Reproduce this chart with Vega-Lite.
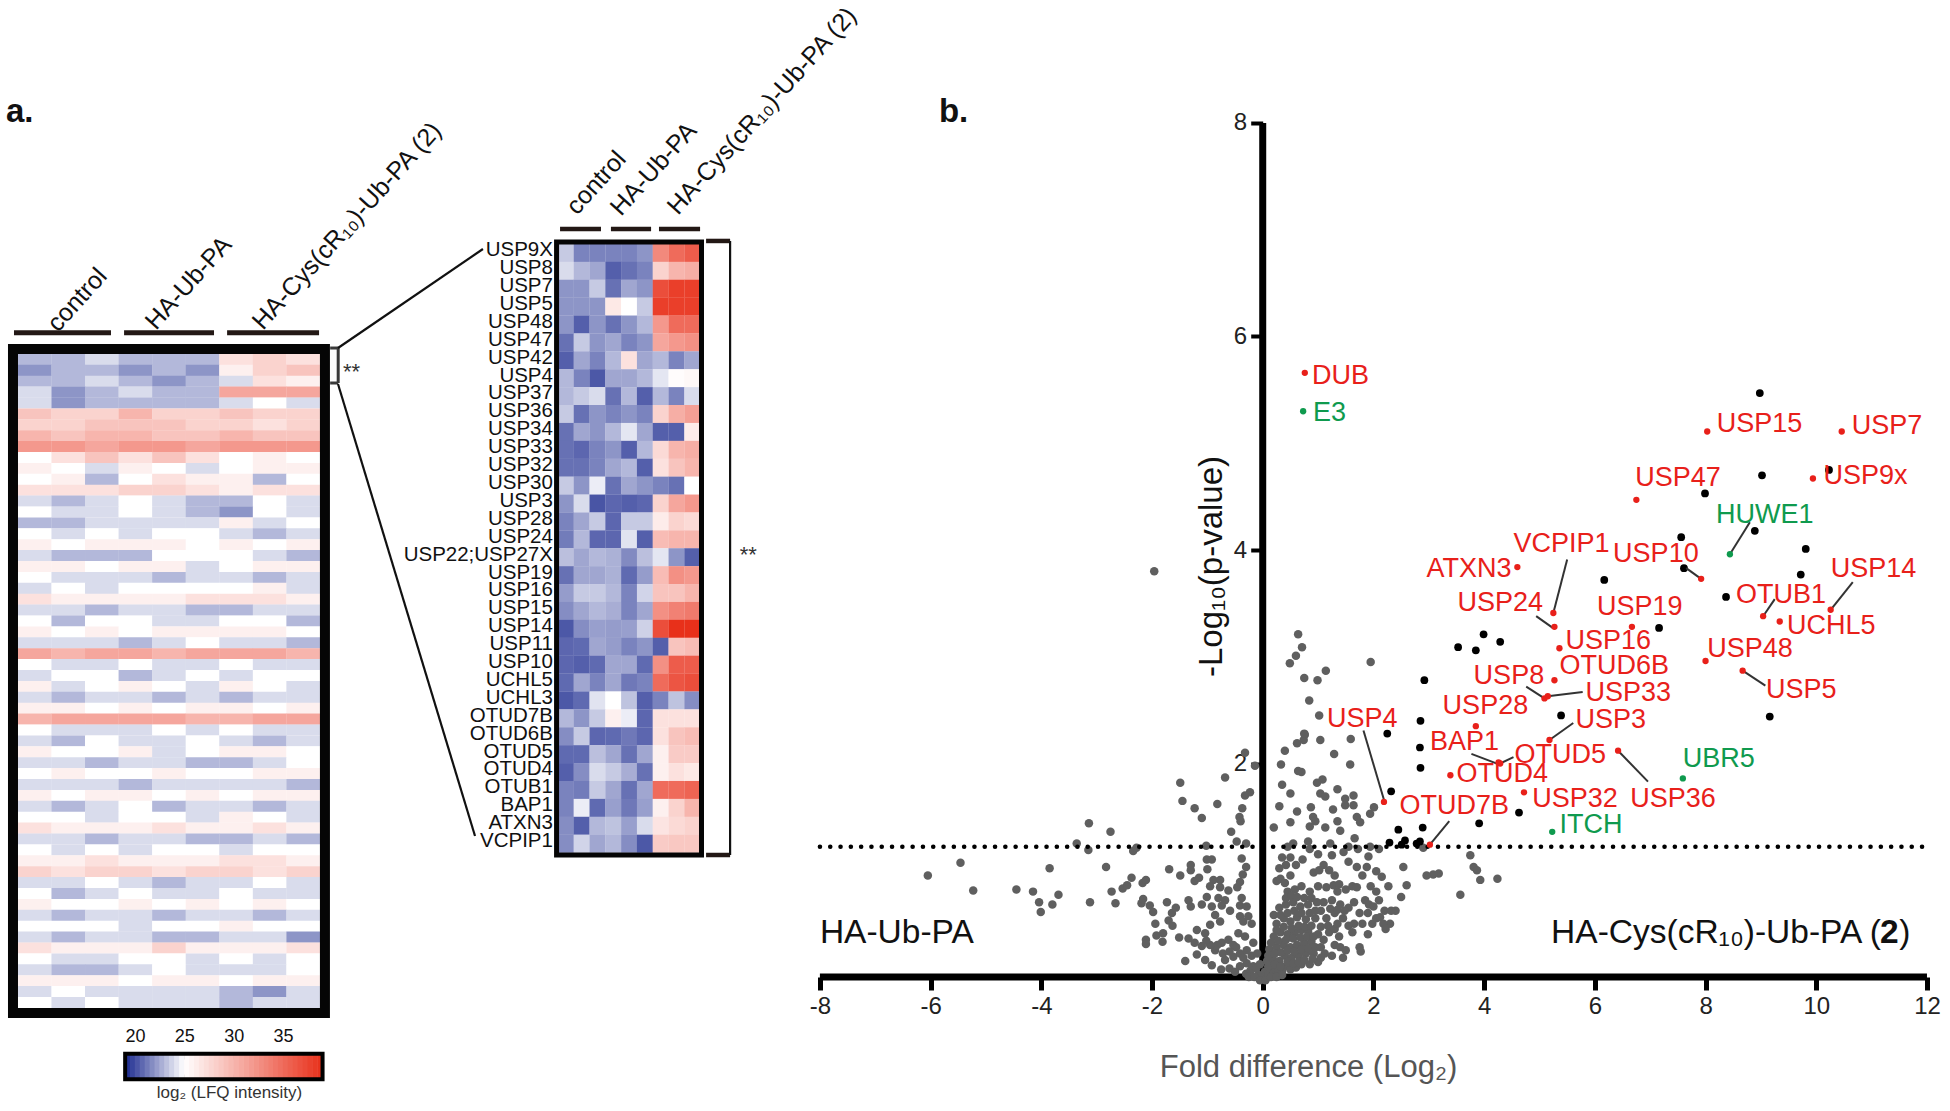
{"$schema":"https://vega.github.io/schema/vega-lite/v6.json","padding":0,"spacing":0,"bounds":"flush","config":{"view":{"stroke":null},"font":"Liberation Sans","concat":{"spacing":0}},
"datasets":{
"heatA":[
{"r":0,"c":0,"v":23},{"r":0,"c":1,"v":23},{"r":0,"c":2,"v":24},{"r":0,"c":3,"v":23},{"r":0,"c":4,"v":23},{"r":0,"c":5,"v":23},{"r":0,"c":6,"v":27},{"r":0,"c":7,"v":28},{"r":0,"c":8,"v":27},
{"r":1,"c":0,"v":22},{"r":1,"c":1,"v":23},{"r":1,"c":2,"v":23},{"r":1,"c":3,"v":22},{"r":1,"c":4,"v":23},{"r":1,"c":5,"v":22},{"r":1,"c":6,"v":26},{"r":1,"c":7,"v":28},{"r":1,"c":8,"v":29},
{"r":2,"c":0,"v":23},{"r":2,"c":1,"v":23},{"r":2,"c":2,"v":24},{"r":2,"c":3,"v":23},{"r":2,"c":4,"v":22},{"r":2,"c":5,"v":23},{"r":2,"c":6,"v":24},{"r":2,"c":7,"v":27},{"r":2,"c":8,"v":26},
{"r":3,"c":0,"v":24},{"r":3,"c":1,"v":22},{"r":3,"c":2,"v":23},{"r":3,"c":3,"v":24},{"r":3,"c":4,"v":23},{"r":3,"c":5,"v":23},{"r":3,"c":6,"v":31},{"r":3,"c":7,"v":31},{"r":3,"c":8,"v":31},
{"r":4,"c":0,"v":24},{"r":4,"c":1,"v":22},{"r":4,"c":2,"v":23},{"r":4,"c":3,"v":23},{"r":4,"c":4,"v":23},{"r":4,"c":5,"v":23},{"r":4,"c":6,"v":24},{"r":4,"c":7,"v":25},{"r":4,"c":8,"v":24},
{"r":5,"c":0,"v":29},{"r":5,"c":1,"v":28},{"r":5,"c":2,"v":28},{"r":5,"c":3,"v":30},{"r":5,"c":4,"v":28},{"r":5,"c":5,"v":28},{"r":5,"c":6,"v":29},{"r":5,"c":7,"v":28},{"r":5,"c":8,"v":28},
{"r":6,"c":0,"v":28},{"r":6,"c":1,"v":28},{"r":6,"c":2,"v":29},{"r":6,"c":3,"v":29},{"r":6,"c":4,"v":29},{"r":6,"c":5,"v":28},{"r":6,"c":6,"v":28},{"r":6,"c":7,"v":27},{"r":6,"c":8,"v":28},
{"r":7,"c":0,"v":30},{"r":7,"c":1,"v":29},{"r":7,"c":2,"v":30},{"r":7,"c":3,"v":30},{"r":7,"c":4,"v":29},{"r":7,"c":5,"v":29},{"r":7,"c":6,"v":30},{"r":7,"c":7,"v":29},{"r":7,"c":8,"v":29},
{"r":8,"c":0,"v":32},{"r":8,"c":1,"v":32},{"r":8,"c":2,"v":31},{"r":8,"c":3,"v":32},{"r":8,"c":4,"v":32},{"r":8,"c":5,"v":31},{"r":8,"c":6,"v":32},{"r":8,"c":7,"v":32},{"r":8,"c":8,"v":32},
{"r":9,"c":0,"v":25},{"r":9,"c":1,"v":27},{"r":9,"c":2,"v":29},{"r":9,"c":3,"v":27},{"r":9,"c":4,"v":29},{"r":9,"c":5,"v":27},{"r":9,"c":6,"v":25},{"r":9,"c":7,"v":26},{"r":9,"c":8,"v":25},
{"r":10,"c":0,"v":26},{"r":10,"c":1,"v":25},{"r":10,"c":2,"v":24},{"r":10,"c":3,"v":26},{"r":10,"c":4,"v":25},{"r":10,"c":5,"v":24},{"r":10,"c":6,"v":25},{"r":10,"c":7,"v":26},{"r":10,"c":8,"v":26},
{"r":11,"c":0,"v":25},{"r":11,"c":1,"v":26},{"r":11,"c":2,"v":23},{"r":11,"c":3,"v":25},{"r":11,"c":4,"v":27},{"r":11,"c":5,"v":26},{"r":11,"c":6,"v":26},{"r":11,"c":7,"v":23},{"r":11,"c":8,"v":25},
{"r":12,"c":0,"v":27},{"r":12,"c":1,"v":27},{"r":12,"c":2,"v":27},{"r":12,"c":3,"v":28},{"r":12,"c":4,"v":28},{"r":12,"c":5,"v":27},{"r":12,"c":6,"v":26},{"r":12,"c":7,"v":27},{"r":12,"c":8,"v":27},
{"r":13,"c":0,"v":24},{"r":13,"c":1,"v":23},{"r":13,"c":2,"v":24},{"r":13,"c":3,"v":25},{"r":13,"c":4,"v":24},{"r":13,"c":5,"v":23},{"r":13,"c":6,"v":23},{"r":13,"c":7,"v":25},{"r":13,"c":8,"v":24},
{"r":14,"c":0,"v":25},{"r":14,"c":1,"v":24},{"r":14,"c":2,"v":24},{"r":14,"c":3,"v":25},{"r":14,"c":4,"v":24},{"r":14,"c":5,"v":23},{"r":14,"c":6,"v":22},{"r":14,"c":7,"v":25},{"r":14,"c":8,"v":24},
{"r":15,"c":0,"v":23},{"r":15,"c":1,"v":23},{"r":15,"c":2,"v":24},{"r":15,"c":3,"v":24},{"r":15,"c":4,"v":24},{"r":15,"c":5,"v":24},{"r":15,"c":6,"v":26},{"r":15,"c":7,"v":24},{"r":15,"c":8,"v":25},
{"r":16,"c":0,"v":25},{"r":16,"c":1,"v":24},{"r":16,"c":2,"v":25},{"r":16,"c":3,"v":24},{"r":16,"c":4,"v":25},{"r":16,"c":5,"v":25},{"r":16,"c":6,"v":24},{"r":16,"c":7,"v":23},{"r":16,"c":8,"v":24},
{"r":17,"c":0,"v":26},{"r":17,"c":1,"v":25},{"r":17,"c":2,"v":26},{"r":17,"c":3,"v":26},{"r":17,"c":4,"v":26},{"r":17,"c":5,"v":25},{"r":17,"c":6,"v":26},{"r":17,"c":7,"v":25},{"r":17,"c":8,"v":26},
{"r":18,"c":0,"v":24},{"r":18,"c":1,"v":23},{"r":18,"c":2,"v":23},{"r":18,"c":3,"v":23},{"r":18,"c":4,"v":25},{"r":18,"c":5,"v":25},{"r":18,"c":6,"v":25},{"r":18,"c":7,"v":24},{"r":18,"c":8,"v":23},
{"r":19,"c":0,"v":26},{"r":19,"c":1,"v":26},{"r":19,"c":2,"v":25},{"r":19,"c":3,"v":26},{"r":19,"c":4,"v":26},{"r":19,"c":5,"v":24},{"r":19,"c":6,"v":25},{"r":19,"c":7,"v":26},{"r":19,"c":8,"v":26},
{"r":20,"c":0,"v":25},{"r":20,"c":1,"v":24},{"r":20,"c":2,"v":24},{"r":20,"c":3,"v":24},{"r":20,"c":4,"v":23},{"r":20,"c":5,"v":24},{"r":20,"c":6,"v":24},{"r":20,"c":7,"v":23},{"r":20,"c":8,"v":24},
{"r":21,"c":0,"v":24},{"r":21,"c":1,"v":25},{"r":21,"c":2,"v":24},{"r":21,"c":3,"v":25},{"r":21,"c":4,"v":25},{"r":21,"c":5,"v":25},{"r":21,"c":6,"v":25},{"r":21,"c":7,"v":26},{"r":21,"c":8,"v":24},
{"r":22,"c":0,"v":27},{"r":22,"c":1,"v":26},{"r":22,"c":2,"v":26},{"r":22,"c":3,"v":26},{"r":22,"c":4,"v":26},{"r":22,"c":5,"v":27},{"r":22,"c":6,"v":27},{"r":22,"c":7,"v":27},{"r":22,"c":8,"v":26},
{"r":23,"c":0,"v":24},{"r":23,"c":1,"v":24},{"r":23,"c":2,"v":23},{"r":23,"c":3,"v":24},{"r":23,"c":4,"v":24},{"r":23,"c":5,"v":23},{"r":23,"c":6,"v":23},{"r":23,"c":7,"v":24},{"r":23,"c":8,"v":24},
{"r":24,"c":0,"v":25},{"r":24,"c":1,"v":23},{"r":24,"c":2,"v":25},{"r":24,"c":3,"v":25},{"r":24,"c":4,"v":24},{"r":24,"c":5,"v":24},{"r":24,"c":6,"v":25},{"r":24,"c":7,"v":25},{"r":24,"c":8,"v":23},
{"r":25,"c":0,"v":26},{"r":25,"c":1,"v":25},{"r":25,"c":2,"v":26},{"r":25,"c":3,"v":25},{"r":25,"c":4,"v":26},{"r":25,"c":5,"v":26},{"r":25,"c":6,"v":26},{"r":25,"c":7,"v":26},{"r":25,"c":8,"v":25},
{"r":26,"c":0,"v":24},{"r":26,"c":1,"v":24},{"r":26,"c":2,"v":24},{"r":26,"c":3,"v":23},{"r":26,"c":4,"v":24},{"r":26,"c":5,"v":25},{"r":26,"c":6,"v":24},{"r":26,"c":7,"v":24},{"r":26,"c":8,"v":23},
{"r":27,"c":0,"v":31},{"r":27,"c":1,"v":30},{"r":27,"c":2,"v":31},{"r":27,"c":3,"v":31},{"r":27,"c":4,"v":30},{"r":27,"c":5,"v":31},{"r":27,"c":6,"v":31},{"r":27,"c":7,"v":31},{"r":27,"c":8,"v":30},
{"r":28,"c":0,"v":25},{"r":28,"c":1,"v":24},{"r":28,"c":2,"v":24},{"r":28,"c":3,"v":25},{"r":28,"c":4,"v":24},{"r":28,"c":5,"v":24},{"r":28,"c":6,"v":25},{"r":28,"c":7,"v":24},{"r":28,"c":8,"v":24},
{"r":29,"c":0,"v":24},{"r":29,"c":1,"v":25},{"r":29,"c":2,"v":25},{"r":29,"c":3,"v":23},{"r":29,"c":4,"v":24},{"r":29,"c":5,"v":25},{"r":29,"c":6,"v":24},{"r":29,"c":7,"v":25},{"r":29,"c":8,"v":25},
{"r":30,"c":0,"v":26},{"r":30,"c":1,"v":24},{"r":30,"c":2,"v":25},{"r":30,"c":3,"v":26},{"r":30,"c":4,"v":25},{"r":30,"c":5,"v":24},{"r":30,"c":6,"v":26},{"r":30,"c":7,"v":25},{"r":30,"c":8,"v":24},
{"r":31,"c":0,"v":24},{"r":31,"c":1,"v":23},{"r":31,"c":2,"v":24},{"r":31,"c":3,"v":24},{"r":31,"c":4,"v":23},{"r":31,"c":5,"v":24},{"r":31,"c":6,"v":23},{"r":31,"c":7,"v":24},{"r":31,"c":8,"v":24},
{"r":32,"c":0,"v":26},{"r":32,"c":1,"v":26},{"r":32,"c":2,"v":25},{"r":32,"c":3,"v":26},{"r":32,"c":4,"v":25},{"r":32,"c":5,"v":26},{"r":32,"c":6,"v":26},{"r":32,"c":7,"v":25},{"r":32,"c":8,"v":26},
{"r":33,"c":0,"v":30},{"r":33,"c":1,"v":31},{"r":33,"c":2,"v":31},{"r":33,"c":3,"v":31},{"r":33,"c":4,"v":31},{"r":33,"c":5,"v":30},{"r":33,"c":6,"v":30},{"r":33,"c":7,"v":31},{"r":33,"c":8,"v":31},
{"r":34,"c":0,"v":25},{"r":34,"c":1,"v":24},{"r":34,"c":2,"v":24},{"r":34,"c":3,"v":24},{"r":34,"c":4,"v":25},{"r":34,"c":5,"v":24},{"r":34,"c":6,"v":25},{"r":34,"c":7,"v":24},{"r":34,"c":8,"v":24},
{"r":35,"c":0,"v":24},{"r":35,"c":1,"v":23},{"r":35,"c":2,"v":25},{"r":35,"c":3,"v":24},{"r":35,"c":4,"v":24},{"r":35,"c":5,"v":25},{"r":35,"c":6,"v":24},{"r":35,"c":7,"v":23},{"r":35,"c":8,"v":24},
{"r":36,"c":0,"v":26},{"r":36,"c":1,"v":25},{"r":36,"c":2,"v":25},{"r":36,"c":3,"v":26},{"r":36,"c":4,"v":24},{"r":36,"c":5,"v":25},{"r":36,"c":6,"v":26},{"r":36,"c":7,"v":26},{"r":36,"c":8,"v":25},
{"r":37,"c":0,"v":24},{"r":37,"c":1,"v":24},{"r":37,"c":2,"v":23},{"r":37,"c":3,"v":24},{"r":37,"c":4,"v":24},{"r":37,"c":5,"v":23},{"r":37,"c":6,"v":23},{"r":37,"c":7,"v":24},{"r":37,"c":8,"v":25},
{"r":38,"c":0,"v":25},{"r":38,"c":1,"v":26},{"r":38,"c":2,"v":25},{"r":38,"c":3,"v":25},{"r":38,"c":4,"v":26},{"r":38,"c":5,"v":25},{"r":38,"c":6,"v":25},{"r":38,"c":7,"v":26},{"r":38,"c":8,"v":26},
{"r":39,"c":0,"v":24},{"r":39,"c":1,"v":24},{"r":39,"c":2,"v":24},{"r":39,"c":3,"v":23},{"r":39,"c":4,"v":24},{"r":39,"c":5,"v":24},{"r":39,"c":6,"v":24},{"r":39,"c":7,"v":24},{"r":39,"c":8,"v":23},
{"r":40,"c":0,"v":26},{"r":40,"c":1,"v":25},{"r":40,"c":2,"v":26},{"r":40,"c":3,"v":26},{"r":40,"c":4,"v":25},{"r":40,"c":5,"v":26},{"r":40,"c":6,"v":25},{"r":40,"c":7,"v":26},{"r":40,"c":8,"v":26},
{"r":41,"c":0,"v":24},{"r":41,"c":1,"v":23},{"r":41,"c":2,"v":24},{"r":41,"c":3,"v":25},{"r":41,"c":4,"v":23},{"r":41,"c":5,"v":24},{"r":41,"c":6,"v":24},{"r":41,"c":7,"v":23},{"r":41,"c":8,"v":24},
{"r":42,"c":0,"v":25},{"r":42,"c":1,"v":25},{"r":42,"c":2,"v":24},{"r":42,"c":3,"v":25},{"r":42,"c":4,"v":25},{"r":42,"c":5,"v":24},{"r":42,"c":6,"v":26},{"r":42,"c":7,"v":25},{"r":42,"c":8,"v":24},
{"r":43,"c":0,"v":27},{"r":43,"c":1,"v":26},{"r":43,"c":2,"v":26},{"r":43,"c":3,"v":26},{"r":43,"c":4,"v":27},{"r":43,"c":5,"v":26},{"r":43,"c":6,"v":26},{"r":43,"c":7,"v":27},{"r":43,"c":8,"v":26},
{"r":44,"c":0,"v":24},{"r":44,"c":1,"v":24},{"r":44,"c":2,"v":23},{"r":44,"c":3,"v":24},{"r":44,"c":4,"v":24},{"r":44,"c":5,"v":23},{"r":44,"c":6,"v":23},{"r":44,"c":7,"v":24},{"r":44,"c":8,"v":23},
{"r":45,"c":0,"v":25},{"r":45,"c":1,"v":24},{"r":45,"c":2,"v":25},{"r":45,"c":3,"v":24},{"r":45,"c":4,"v":25},{"r":45,"c":5,"v":25},{"r":45,"c":6,"v":24},{"r":45,"c":7,"v":25},{"r":45,"c":8,"v":25},
{"r":46,"c":0,"v":26},{"r":46,"c":1,"v":26},{"r":46,"c":2,"v":27},{"r":46,"c":3,"v":26},{"r":46,"c":4,"v":26},{"r":46,"c":5,"v":26},{"r":46,"c":6,"v":27},{"r":46,"c":7,"v":27},{"r":46,"c":8,"v":26},
{"r":47,"c":0,"v":28},{"r":47,"c":1,"v":27},{"r":47,"c":2,"v":28},{"r":47,"c":3,"v":28},{"r":47,"c":4,"v":27},{"r":47,"c":5,"v":28},{"r":47,"c":6,"v":28},{"r":47,"c":7,"v":27},{"r":47,"c":8,"v":28},
{"r":48,"c":0,"v":24},{"r":48,"c":1,"v":24},{"r":48,"c":2,"v":25},{"r":48,"c":3,"v":24},{"r":48,"c":4,"v":23},{"r":48,"c":5,"v":24},{"r":48,"c":6,"v":24},{"r":48,"c":7,"v":25},{"r":48,"c":8,"v":24},
{"r":49,"c":0,"v":25},{"r":49,"c":1,"v":23},{"r":49,"c":2,"v":24},{"r":49,"c":3,"v":25},{"r":49,"c":4,"v":24},{"r":49,"c":5,"v":24},{"r":49,"c":6,"v":25},{"r":49,"c":7,"v":24},{"r":49,"c":8,"v":24},
{"r":50,"c":0,"v":26},{"r":50,"c":1,"v":25},{"r":50,"c":2,"v":25},{"r":50,"c":3,"v":26},{"r":50,"c":4,"v":25},{"r":50,"c":5,"v":26},{"r":50,"c":6,"v":25},{"r":50,"c":7,"v":26},{"r":50,"c":8,"v":25},
{"r":51,"c":0,"v":24},{"r":51,"c":1,"v":23},{"r":51,"c":2,"v":24},{"r":51,"c":3,"v":24},{"r":51,"c":4,"v":23},{"r":51,"c":5,"v":24},{"r":51,"c":6,"v":24},{"r":51,"c":7,"v":23},{"r":51,"c":8,"v":24},
{"r":52,"c":0,"v":25},{"r":52,"c":1,"v":25},{"r":52,"c":2,"v":25},{"r":52,"c":3,"v":24},{"r":52,"c":4,"v":25},{"r":52,"c":5,"v":25},{"r":52,"c":6,"v":26},{"r":52,"c":7,"v":25},{"r":52,"c":8,"v":25},
{"r":53,"c":0,"v":24},{"r":53,"c":1,"v":23},{"r":53,"c":2,"v":24},{"r":53,"c":3,"v":24},{"r":53,"c":4,"v":23},{"r":53,"c":5,"v":23},{"r":53,"c":6,"v":24},{"r":53,"c":7,"v":24},{"r":53,"c":8,"v":22},
{"r":54,"c":0,"v":27},{"r":54,"c":1,"v":26},{"r":54,"c":2,"v":26},{"r":54,"c":3,"v":26},{"r":54,"c":4,"v":28},{"r":54,"c":5,"v":26},{"r":54,"c":6,"v":26},{"r":54,"c":7,"v":26},{"r":54,"c":8,"v":27},
{"r":55,"c":0,"v":25},{"r":55,"c":1,"v":24},{"r":55,"c":2,"v":24},{"r":55,"c":3,"v":25},{"r":55,"c":4,"v":25},{"r":55,"c":5,"v":24},{"r":55,"c":6,"v":25},{"r":55,"c":7,"v":24},{"r":55,"c":8,"v":25},
{"r":56,"c":0,"v":24},{"r":56,"c":1,"v":23},{"r":56,"c":2,"v":23},{"r":56,"c":3,"v":24},{"r":56,"c":4,"v":25},{"r":56,"c":5,"v":24},{"r":56,"c":6,"v":24},{"r":56,"c":7,"v":24},{"r":56,"c":8,"v":25},
{"r":57,"c":0,"v":26},{"r":57,"c":1,"v":26},{"r":57,"c":2,"v":26},{"r":57,"c":3,"v":25},{"r":57,"c":4,"v":26},{"r":57,"c":5,"v":26},{"r":57,"c":6,"v":25},{"r":57,"c":7,"v":26},{"r":57,"c":8,"v":26},
{"r":58,"c":0,"v":24},{"r":58,"c":1,"v":25},{"r":58,"c":2,"v":24},{"r":58,"c":3,"v":24},{"r":58,"c":4,"v":24},{"r":58,"c":5,"v":24},{"r":58,"c":6,"v":23},{"r":58,"c":7,"v":22},{"r":58,"c":8,"v":24},
{"r":59,"c":0,"v":25},{"r":59,"c":1,"v":24},{"r":59,"c":2,"v":25},{"r":59,"c":3,"v":24},{"r":59,"c":4,"v":24},{"r":59,"c":5,"v":24},{"r":59,"c":6,"v":23},{"r":59,"c":7,"v":24},{"r":59,"c":8,"v":24}
],
"heatB":[
{"r":0,"c":0,"v":23.5},{"r":0,"c":1,"v":21.5},{"r":0,"c":2,"v":21.5},{"r":0,"c":3,"v":21.5},{"r":0,"c":4,"v":21.5},{"r":0,"c":5,"v":22},{"r":0,"c":6,"v":33},{"r":0,"c":7,"v":35},{"r":0,"c":8,"v":36},
{"r":1,"c":0,"v":24},{"r":1,"c":1,"v":23},{"r":1,"c":2,"v":22.5},{"r":1,"c":3,"v":20.5},{"r":1,"c":4,"v":21},{"r":1,"c":5,"v":21.5},{"r":1,"c":6,"v":28},{"r":1,"c":7,"v":30},{"r":1,"c":8,"v":30.5},
{"r":2,"c":0,"v":22},{"r":2,"c":1,"v":22},{"r":2,"c":2,"v":23.5},{"r":2,"c":3,"v":21},{"r":2,"c":4,"v":22.5},{"r":2,"c":5,"v":22},{"r":2,"c":6,"v":37},{"r":2,"c":7,"v":38},{"r":2,"c":8,"v":38},
{"r":3,"c":0,"v":22},{"r":3,"c":1,"v":22},{"r":3,"c":2,"v":22},{"r":3,"c":3,"v":26.5},{"r":3,"c":4,"v":25},{"r":3,"c":5,"v":23.5},{"r":3,"c":6,"v":38},{"r":3,"c":7,"v":38},{"r":3,"c":8,"v":38},
{"r":4,"c":0,"v":22},{"r":4,"c":1,"v":20.5},{"r":4,"c":2,"v":22},{"r":4,"c":3,"v":21},{"r":4,"c":4,"v":22},{"r":4,"c":5,"v":23},{"r":4,"c":6,"v":32},{"r":4,"c":7,"v":35},{"r":4,"c":8,"v":35},
{"r":5,"c":0,"v":21},{"r":5,"c":1,"v":23.5},{"r":5,"c":2,"v":22},{"r":5,"c":3,"v":22.5},{"r":5,"c":4,"v":21.5},{"r":5,"c":5,"v":22},{"r":5,"c":6,"v":31},{"r":5,"c":7,"v":32},{"r":5,"c":8,"v":32.5},
{"r":6,"c":0,"v":20.5},{"r":6,"c":1,"v":22.5},{"r":6,"c":2,"v":21.5},{"r":6,"c":3,"v":23},{"r":6,"c":4,"v":27},{"r":6,"c":5,"v":22.5},{"r":6,"c":6,"v":23},{"r":6,"c":7,"v":21.5},{"r":6,"c":8,"v":22.5},
{"r":7,"c":0,"v":23},{"r":7,"c":1,"v":21.5},{"r":7,"c":2,"v":20.3},{"r":7,"c":3,"v":22.5},{"r":7,"c":4,"v":22.5},{"r":7,"c":5,"v":23},{"r":7,"c":6,"v":24.3},{"r":7,"c":7,"v":25.2},{"r":7,"c":8,"v":25.5},
{"r":8,"c":0,"v":23},{"r":8,"c":1,"v":23.5},{"r":8,"c":2,"v":24},{"r":8,"c":3,"v":21},{"r":8,"c":4,"v":23},{"r":8,"c":5,"v":20.5},{"r":8,"c":6,"v":23},{"r":8,"c":7,"v":21.5},{"r":8,"c":8,"v":24},
{"r":9,"c":0,"v":23.5},{"r":9,"c":1,"v":21},{"r":9,"c":2,"v":22},{"r":9,"c":3,"v":21.5},{"r":9,"c":4,"v":22},{"r":9,"c":5,"v":21.5},{"r":9,"c":6,"v":28},{"r":9,"c":7,"v":30.5},{"r":9,"c":8,"v":31.5},
{"r":10,"c":0,"v":21},{"r":10,"c":1,"v":22.5},{"r":10,"c":2,"v":22},{"r":10,"c":3,"v":23},{"r":10,"c":4,"v":24.3},{"r":10,"c":5,"v":22.5},{"r":10,"c":6,"v":20.5},{"r":10,"c":7,"v":20.5},{"r":10,"c":8,"v":26.3},
{"r":11,"c":0,"v":21},{"r":11,"c":1,"v":20.7},{"r":11,"c":2,"v":21.5},{"r":11,"c":3,"v":22},{"r":11,"c":4,"v":20.5},{"r":11,"c":5,"v":23},{"r":11,"c":6,"v":27.5},{"r":11,"c":7,"v":30},{"r":11,"c":8,"v":30.5},
{"r":12,"c":0,"v":21},{"r":12,"c":1,"v":21},{"r":12,"c":2,"v":21.5},{"r":12,"c":3,"v":22.5},{"r":12,"c":4,"v":23},{"r":12,"c":5,"v":20.5},{"r":12,"c":6,"v":27},{"r":12,"c":7,"v":29},{"r":12,"c":8,"v":30},
{"r":13,"c":0,"v":23.5},{"r":13,"c":1,"v":22},{"r":13,"c":2,"v":24.5},{"r":13,"c":3,"v":21},{"r":13,"c":4,"v":22.5},{"r":13,"c":5,"v":22},{"r":13,"c":6,"v":21.5},{"r":13,"c":7,"v":21},{"r":13,"c":8,"v":25},
{"r":14,"c":0,"v":22},{"r":14,"c":1,"v":24},{"r":14,"c":2,"v":20.2},{"r":14,"c":3,"v":20.7},{"r":14,"c":4,"v":20.5},{"r":14,"c":5,"v":20.7},{"r":14,"c":6,"v":28},{"r":14,"c":7,"v":31},{"r":14,"c":8,"v":32},
{"r":15,"c":0,"v":21.5},{"r":15,"c":1,"v":22.5},{"r":15,"c":2,"v":23.5},{"r":15,"c":3,"v":20.7},{"r":15,"c":4,"v":23.5},{"r":15,"c":5,"v":23.5},{"r":15,"c":6,"v":26.3},{"r":15,"c":7,"v":28},{"r":15,"c":8,"v":27.5},
{"r":16,"c":0,"v":21.3},{"r":16,"c":1,"v":23},{"r":16,"c":2,"v":20.7},{"r":16,"c":3,"v":20.7},{"r":16,"c":4,"v":24.2},{"r":16,"c":5,"v":20.5},{"r":16,"c":6,"v":29.5},{"r":16,"c":7,"v":30},{"r":16,"c":8,"v":30},
{"r":17,"c":0,"v":23.2},{"r":17,"c":1,"v":22.5},{"r":17,"c":2,"v":23},{"r":17,"c":3,"v":22.8},{"r":17,"c":4,"v":21.7},{"r":17,"c":5,"v":23.2},{"r":17,"c":6,"v":24.3},{"r":17,"c":7,"v":22},{"r":17,"c":8,"v":20.5},
{"r":18,"c":0,"v":21},{"r":18,"c":1,"v":22.5},{"r":18,"c":2,"v":22.5},{"r":18,"c":3,"v":22.8},{"r":18,"c":4,"v":20.8},{"r":18,"c":5,"v":22.2},{"r":18,"c":6,"v":29.5},{"r":18,"c":7,"v":32.5},{"r":18,"c":8,"v":32},
{"r":19,"c":0,"v":22.2},{"r":19,"c":1,"v":23.5},{"r":19,"c":2,"v":23.5},{"r":19,"c":3,"v":23},{"r":19,"c":4,"v":21.5},{"r":19,"c":5,"v":23.8},{"r":19,"c":6,"v":29},{"r":19,"c":7,"v":29},{"r":19,"c":8,"v":30},
{"r":20,"c":0,"v":21.8},{"r":20,"c":1,"v":22.5},{"r":20,"c":2,"v":23},{"r":20,"c":3,"v":22.7},{"r":20,"c":4,"v":21.5},{"r":20,"c":5,"v":22.5},{"r":20,"c":6,"v":32.5},{"r":20,"c":7,"v":33.5},{"r":20,"c":8,"v":34},
{"r":21,"c":0,"v":20.3},{"r":21,"c":1,"v":21.8},{"r":21,"c":2,"v":22.3},{"r":21,"c":3,"v":22.2},{"r":21,"c":4,"v":22.3},{"r":21,"c":5,"v":23.7},{"r":21,"c":6,"v":37},{"r":21,"c":7,"v":39},{"r":21,"c":8,"v":39},
{"r":22,"c":0,"v":20.7},{"r":22,"c":1,"v":20.8},{"r":22,"c":2,"v":22.5},{"r":22,"c":3,"v":22.2},{"r":22,"c":4,"v":21.5},{"r":22,"c":5,"v":22},{"r":22,"c":6,"v":20.5},{"r":22,"c":7,"v":29},{"r":22,"c":8,"v":29.5},
{"r":23,"c":0,"v":20.7},{"r":23,"c":1,"v":20.5},{"r":23,"c":2,"v":20.8},{"r":23,"c":3,"v":22.5},{"r":23,"c":4,"v":22.5},{"r":23,"c":5,"v":20.8},{"r":23,"c":6,"v":32.5},{"r":23,"c":7,"v":36},{"r":23,"c":8,"v":36},
{"r":24,"c":0,"v":20.8},{"r":24,"c":1,"v":22.5},{"r":24,"c":2,"v":21.5},{"r":24,"c":3,"v":22.5},{"r":24,"c":4,"v":21.2},{"r":24,"c":5,"v":21.5},{"r":24,"c":6,"v":35},{"r":24,"c":7,"v":36.5},{"r":24,"c":8,"v":37},
{"r":25,"c":0,"v":20.3},{"r":25,"c":1,"v":20.8},{"r":25,"c":2,"v":24.2},{"r":25,"c":3,"v":25},{"r":25,"c":4,"v":23.3},{"r":25,"c":5,"v":20.5},{"r":25,"c":6,"v":21.5},{"r":25,"c":7,"v":23.3},{"r":25,"c":8,"v":21.8},
{"r":26,"c":0,"v":23},{"r":26,"c":1,"v":22},{"r":26,"c":2,"v":23.5},{"r":26,"c":3,"v":26},{"r":26,"c":4,"v":24.5},{"r":26,"c":5,"v":20.7},{"r":26,"c":6,"v":27},{"r":26,"c":7,"v":27},{"r":26,"c":8,"v":27},
{"r":27,"c":0,"v":21.8},{"r":27,"c":1,"v":23.5},{"r":27,"c":2,"v":20.7},{"r":27,"c":3,"v":20.8},{"r":27,"c":4,"v":21.2},{"r":27,"c":5,"v":20.7},{"r":27,"c":6,"v":27},{"r":27,"c":7,"v":29},{"r":27,"c":8,"v":29.5},
{"r":28,"c":0,"v":20.8},{"r":28,"c":1,"v":20.8},{"r":28,"c":2,"v":23.2},{"r":28,"c":3,"v":22.5},{"r":28,"c":4,"v":21},{"r":28,"c":5,"v":22.5},{"r":28,"c":6,"v":26},{"r":28,"c":7,"v":28.5},{"r":28,"c":8,"v":28.5},
{"r":29,"c":0,"v":20.5},{"r":29,"c":1,"v":21.8},{"r":29,"c":2,"v":24},{"r":29,"c":3,"v":23.5},{"r":29,"c":4,"v":22.7},{"r":29,"c":5,"v":21},{"r":29,"c":6,"v":26},{"r":29,"c":7,"v":27},{"r":29,"c":8,"v":26.5},
{"r":30,"c":0,"v":21.5},{"r":30,"c":1,"v":21.3},{"r":30,"c":2,"v":23.5},{"r":30,"c":3,"v":22.5},{"r":30,"c":4,"v":21},{"r":30,"c":5,"v":22.5},{"r":30,"c":6,"v":35},{"r":30,"c":7,"v":35},{"r":30,"c":8,"v":35.5},
{"r":31,"c":0,"v":21.5},{"r":31,"c":1,"v":24.5},{"r":31,"c":2,"v":20.8},{"r":31,"c":3,"v":22.3},{"r":31,"c":4,"v":21.2},{"r":31,"c":5,"v":22.3},{"r":31,"c":6,"v":26},{"r":31,"c":7,"v":28},{"r":31,"c":8,"v":30},
{"r":32,"c":0,"v":21.8},{"r":32,"c":1,"v":20.5},{"r":32,"c":2,"v":23},{"r":32,"c":3,"v":23.3},{"r":32,"c":4,"v":22.3},{"r":32,"c":5,"v":24},{"r":32,"c":6,"v":26.8},{"r":32,"c":7,"v":27.5},{"r":32,"c":8,"v":28},
{"r":33,"c":0,"v":21.8},{"r":33,"c":1,"v":23.8},{"r":33,"c":2,"v":22.5},{"r":33,"c":3,"v":23},{"r":33,"c":4,"v":21.8},{"r":33,"c":5,"v":20.3},{"r":33,"c":6,"v":28.5},{"r":33,"c":7,"v":28.7},{"r":33,"c":8,"v":28.7}
],
"genes":[{"g":"USP9X","r":-0.15,"c":-0.82},{"g":"USP8","r":0.85,"c":-0.82},{"g":"USP7","r":1.85,"c":-0.82},{"g":"USP5","r":2.85,"c":-0.82},{"g":"USP48","r":3.85,"c":-0.82},{"g":"USP47","r":4.85,"c":-0.82},{"g":"USP42","r":5.85,"c":-0.82},{"g":"USP4","r":6.85,"c":-0.82},{"g":"USP37","r":7.85,"c":-0.82},{"g":"USP36","r":8.85,"c":-0.82},{"g":"USP34","r":9.85,"c":-0.82},{"g":"USP33","r":10.85,"c":-0.82},{"g":"USP32","r":11.85,"c":-0.82},{"g":"USP30","r":12.85,"c":-0.82},{"g":"USP3","r":13.85,"c":-0.82},{"g":"USP28","r":14.85,"c":-0.82},{"g":"USP24","r":15.85,"c":-0.82},{"g":"USP22;USP27X","r":16.85,"c":-0.82},{"g":"USP19","r":17.85,"c":-0.82},{"g":"USP16","r":18.85,"c":-0.82},{"g":"USP15","r":19.85,"c":-0.82},{"g":"USP14","r":20.85,"c":-0.82},{"g":"USP11","r":21.85,"c":-0.82},{"g":"USP10","r":22.85,"c":-0.82},{"g":"UCHL5","r":23.85,"c":-0.82},{"g":"UCHL3","r":24.85,"c":-0.82},{"g":"OTUD7B","r":25.85,"c":-0.82},{"g":"OTUD6B","r":26.85,"c":-0.82},{"g":"OTUD5","r":27.85,"c":-0.82},{"g":"OTUD4","r":28.85,"c":-0.82},{"g":"OTUB1","r":29.85,"c":-0.82},{"g":"BAP1","r":30.85,"c":-0.82},{"g":"ATXN3","r":31.85,"c":-0.82},{"g":"VCPIP1","r":32.85,"c":-0.82}],
"gray":[{"x":-6.05,"y":0.95},{"x":-5.46,"y":1.07},{"x":-5.23,"y":0.81},{"x":-4.45,"y":0.82},{"x":-4.15,"y":0.8},{"x":-4.04,"y":0.7},{"x":-4.01,"y":0.61},{"x":-3.8,"y":0.68},{"x":-3.69,"y":0.77},{"x":-3.85,"y":1.02},{"x":-3.14,"y":1.44},{"x":-2.75,"y":1.36},{"x":-3.36,"y":1.25},{"x":-3.15,"y":1.19},{"x":-2.83,"y":1.03},{"x":-3.12,"y":0.7},{"x":-2.73,"y":0.8},{"x":-2.66,"y":0.69},{"x":-2.53,"y":0.83},{"x":-2.45,"y":0.86},{"x":-2.37,"y":0.93},{"x":-2.34,"y":1.18},{"x":-2.28,"y":1.21},{"x":-2.17,"y":0.88},{"x":-2.11,"y":0.91},{"x":-2.19,"y":0.69},{"x":-2.16,"y":0.73},{"x":-2.04,"y":0.67},{"x":-1.98,"y":0.61},{"x":-1.94,"y":0.5},{"x":-1.92,"y":0.39},{"x":-2.11,"y":0.35},{"x":-2.11,"y":0.31},{"x":-1.8,"y":0.41},{"x":-1.81,"y":0.33},{"x":-1.73,"y":0.7},{"x":-1.69,"y":1.01},{"x":-1.49,"y":0.95},{"x":-1.64,"y":0.6},{"x":-1.57,"y":0.65},{"x":-1.7,"y":0.53},{"x":-1.63,"y":0.48},{"x":-1.51,"y":0.37},{"x":-1.4,"y":0.15},{"x":-1.23,"y":1.58},{"x":-0.82,"y":1.62},{"x":-1.1,"y":1.49},{"x":-1.49,"y":1.82},{"x":-1.34,"y":0.72},{"x":-1.3,"y":0.66},{"x":-1.3,"y":1.05},{"x":-1.3,"y":1.0},{"x":-1.23,"y":0.9},{"x":-1.15,"y":0.93},{"x":-1.0,"y":1.01},{"x":-1.02,"y":1.23},{"x":-1.01,"y":1.1},{"x":-0.92,"y":1.1},{"x":-0.57,"y":1.36},{"x":-0.47,"y":1.27},{"x":-0.42,"y":1.5},{"x":-0.4,"y":1.46},{"x":-0.37,"y":1.58},{"x":-0.3,"y":1.25},{"x":-0.38,"y":1.11},{"x":-0.3,"y":1.03},{"x":-0.36,"y":0.96},{"x":-0.41,"y":0.89},{"x":-0.46,"y":0.84},{"x":-0.89,"y":0.91},{"x":-0.77,"y":0.91},{"x":-0.95,"y":0.85},{"x":-1.01,"y":0.75},{"x":-1.1,"y":0.68},{"x":-0.77,"y":0.84},{"x":-0.62,"y":0.81},{"x":-0.8,"y":0.74},{"x":-0.68,"y":0.72},{"x":-0.74,"y":0.67},{"x":-0.38,"y":0.74},{"x":-0.41,"y":0.67},{"x":-0.29,"y":0.66},{"x":-0.59,"y":0.62},{"x":-0.92,"y":0.66},{"x":-0.86,"y":0.58},{"x":-0.77,"y":0.52},{"x":-0.41,"y":0.57},{"x":-0.35,"y":0.52},{"x":-0.26,"y":0.57},{"x":-0.2,"y":0.5},{"x":-0.95,"y":0.49},{"x":-1.19,"y":0.44},{"x":-1.04,"y":0.41},{"x":-1.34,"y":0.36},{"x":-1.23,"y":0.32},{"x":-1.1,"y":0.29},{"x":-1.19,"y":0.21},{"x":-1.04,"y":0.16},{"x":-0.92,"y":0.11},{"x":-0.75,"y":0.07},{"x":-0.86,"y":0.25},{"x":-0.74,"y":0.32},{"x":-0.62,"y":0.35},{"x":-0.53,"y":0.3},{"x":-0.44,"y":0.41},{"x":-0.32,"y":0.38},{"x":-0.68,"y":0.16},{"x":-0.53,"y":0.19},{"x":-0.41,"y":0.22},{"x":-0.29,"y":0.25},{"x":-0.17,"y":0.32},{"x":-0.41,"y":0.1},{"x":-0.29,"y":0.13},{"x":-0.17,"y":0.1},{"x":-0.08,"y":0.02},{"x":-0.32,"y":2.1},{"x":-0.14,"y":1.98},{"x":-0.23,"y":1.73},{"x":-0.68,"y":1.87},{"x":-0.32,"y":1.7},{"x":-1.45,"y":1.65},{"x":-1.96,"y":3.8},
{"x":-0.3,"y":0.03},{"x":-0.22,"y":0.06},{"x":-0.12,"y":0.08},{"x":-0.05,"y":0.12},{"x":0,"y":0.02},{"x":0.04,"y":0.05},{"x":0.1,"y":0.03},{"x":0.15,"y":0.08},{"x":0.2,"y":0.04},{"x":0.28,"y":0.06},{"x":0.35,"y":0.05},{"x":0.42,"y":0.1},{"x":0.5,"y":0.07},{"x":0.6,"y":0.09},{"x":0.7,"y":0.12},{"x":0.85,"y":0.12},{"x":1,"y":0.14},{"x":0.08,"y":0.15},{"x":0.18,"y":0.17},{"x":0.3,"y":0.15},{"x":0.4,"y":0.2},{"x":0.52,"y":0.18},{"x":0.65,"y":0.2},{"x":0.78,"y":0.22},{"x":0.92,"y":0.22},{"x":0.12,"y":0.26},{"x":0.25,"y":0.28},{"x":0.38,"y":0.3},{"x":0.5,"y":0.28},{"x":0.62,"y":0.3},{"x":0.75,"y":0.32},{"x":0.88,"y":0.33},{"x":0.2,"y":0.38},{"x":0.32,"y":0.42},{"x":0.45,"y":0.4},{"x":0.58,"y":0.42},{"x":0.7,"y":0.44},{"x":0.82,"y":0.43},{"x":1.0,"y":0.4},{"x":0.25,"y":0.5},{"x":0.38,"y":0.55},{"x":0.5,"y":0.52},{"x":0.62,"y":0.56},{"x":0.78,"y":0.54},{"x":0.95,"y":0.55},{"x":0.3,"y":0.65},{"x":0.42,"y":0.68},{"x":0.55,"y":0.7},{"x":0.68,"y":0.66},{"x":0.82,"y":0.68},{"x":0.45,"y":0.8},{"x":0.58,"y":0.82},{"x":0.7,"y":0.85},{"x":0.85,"y":0.8},{"x":1.1,"y":0.35},{"x":1.2,"y":0.42},{"x":1.3,"y":0.3},{"x":1.25,"y":0.2},{"x":1.4,"y":0.28},{"x":1.5,"y":0.25},{"x":1.45,"y":0.18},{"x":1.75,"y":0.28},{"x":1.77,"y":0.24},{"x":1.15,"y":0.55},{"x":1.3,"y":0.6},{"x":1.45,"y":0.55},{"x":1.1,"y":0.7},{"x":1.25,"y":0.72},{"x":1.4,"y":0.68},{"x":1.55,"y":0.65},{"x":1.35,"y":0.8},{"x":1.5,"y":0.82},{"x":1.65,"y":0.7},{"x":1.75,"y":0.6},{"x":1.8,"y":0.5},{"x":1.65,"y":0.5},{"x":1.0,"y":0.85},{"x":1.15,"y":0.84},{"x":0.6,"y":1.05},{"x":0.72,"y":1.1},{"x":0.3,"y":1.02},{"x":0.35,"y":1.12},{"x":0.45,"y":1.22},{"x":0.55,"y":1.25},{"x":0.85,"y":1.2},{"x":1.0,"y":1.15},{"x":1.1,"y":1.05},{"x":1.2,"y":1.0},{"x":1.3,"y":0.95},{"x":1.55,"y":1.08},{"x":1.7,"y":1.03},{"x":1.8,"y":0.95},{"x":1.95,"y":0.85},{"x":2.05,"y":0.8},{"x":2.1,"y":0.72},{"x":2.2,"y":0.62},{"x":2.05,"y":0.55},{"x":2.3,"y":0.5},{"x":2.4,"y":0.62},{"x":2.5,"y":0.75},{"x":1.9,"y":0.4},{"x":1.98,"y":0.5},
{"x":1.95,"y":2.95},{"x":1.14,"y":2.87},{"x":0.99,"y":2.78},{"x":1.02,"y":2.45},{"x":0.76,"y":2.27},{"x":0.74,"y":2.22},{"x":1.04,"y":2.22},{"x":1.59,"y":2.23},{"x":1.29,"y":2.09},{"x":1.58,"y":1.99},{"x":0.7,"y":1.92},{"x":1.08,"y":1.85},{"x":0.98,"y":1.82},{"x":1.35,"y":1.76},{"x":1.04,"y":1.72},{"x":1.13,"y":1.69},{"x":1.49,"y":1.67},{"x":1.64,"y":1.7},{"x":1.49,"y":1.61},{"x":1.64,"y":1.61},{"x":0.87,"y":1.59},{"x":1.27,"y":1.57},{"x":2.01,"y":1.59},{"x":1.94,"y":1.53},{"x":0.91,"y":1.5},{"x":0.95,"y":1.46},{"x":0.85,"y":1.41},{"x":1.35,"y":1.46},{"x":1.7,"y":1.5},{"x":1.76,"y":1.45},{"x":1.13,"y":1.4},{"x":1.4,"y":1.37},{"x":0.82,"y":1.27},{"x":1.22,"y":1.25},{"x":1.66,"y":1.3},{"x":1.46,"y":1.17},{"x":1.94,"y":1.22},{"x":1.91,"y":1.13},{"x":1.88,"y":1.03},{"x":3.75,"y":1.14},{"x":3.81,"y":1.03},{"x":3.87,"y":1.0},{"x":3.93,"y":0.91},{"x":4.24,"y":0.92},{"x":3.18,"y":0.97},{"x":3.08,"y":0.96},{"x":2.96,"y":0.95},{"x":2.54,"y":1.03},{"x":2.6,"y":0.86},{"x":3.57,"y":0.77},{"x":2.9,"y":1.21},{"x":2.05,"y":0.99},{"x":2.15,"y":0.94},{"x":2.27,"y":0.85},{"x":0.64,"y":3.21},{"x":0.71,"y":3.09},{"x":0.6,"y":3.01},{"x":0.49,"y":2.94},{"x":0.75,"y":2.8},{"x":0.84,"y":2.59},{"x":0.62,"y":2.19},{"x":0.75,"y":2.28},{"x":0.4,"y":2.12},{"x":0.64,"y":1.93},{"x":0.33,"y":1.99},{"x":0.35,"y":1.8},{"x":0.5,"y":1.72},{"x":0.3,"y":1.6},{"x":0.62,"y":1.55},{"x":0.5,"y":1.45},{"x":0.2,"y":1.4},
{"x":-0.25,"y":0.0},{"x":-0.15,"y":0.0},{"x":-0.05,"y":-0.03},{"x":0.05,"y":-0.03},{"x":0.15,"y":0.0},{"x":0.25,"y":0.0},{"x":0.35,"y":0.02},{"x":-0.6,"y":0.08},{"x":-0.5,"y":0.05},{"x":-0.35,"y":0.18},{"x":-0.2,"y":0.2},{"x":-0.1,"y":0.22},{"x":-0.48,"y":0.28},{"x":-0.6,"y":0.24},{"x":-0.72,"y":0.22},{"x":-0.82,"y":0.3},{"x":-0.95,"y":0.3},{"x":-1.02,"y":0.34},{"x":0.1,"y":0.1},{"x":0.22,"y":0.12},{"x":0.32,"y":0.1},{"x":0.45,"y":0.14},{"x":0.55,"y":0.13},{"x":0.65,"y":0.14},{"x":0.75,"y":0.16},{"x":0.9,"y":0.17},{"x":0.1,"y":0.2},{"x":0.22,"y":0.22},{"x":0.33,"y":0.23},{"x":0.45,"y":0.25},{"x":0.57,"y":0.24},{"x":0.7,"y":0.26},{"x":0.82,"y":0.27},{"x":0.95,"y":0.28},{"x":0.15,"y":0.32},{"x":0.28,"y":0.34},{"x":0.42,"y":0.35},{"x":0.55,"y":0.36},{"x":0.68,"y":0.37},{"x":0.8,"y":0.38},{"x":0.92,"y":0.38},{"x":1.05,"y":0.28},{"x":1.12,"y":0.22},{"x":1.05,"y":0.18},{"x":0.25,"y":0.44},{"x":0.38,"y":0.47},{"x":0.52,"y":0.46},{"x":0.65,"y":0.48},{"x":0.76,"y":0.47},{"x":0.88,"y":0.48},{"x":0.2,"y":0.58},{"x":0.32,"y":0.58},{"x":0.45,"y":0.6},{"x":0.57,"y":0.62},{"x":0.7,"y":0.6},{"x":0.85,"y":0.6},{"x":0.95,"y":0.62},{"x":0.42,"y":0.74},{"x":0.52,"y":0.76},{"x":0.62,"y":0.75},{"x":0.75,"y":0.74},{"x":0.88,"y":0.74},{"x":0.98,"y":0.7},{"x":1.05,"y":0.62},{"x":1.05,"y":0.47},{"x":1.18,"y":0.48},{"x":1.3,"y":0.45},{"x":1.38,"y":0.38},{"x":1.22,"y":0.64},{"x":1.35,"y":0.63},{"x":1.48,"y":0.62},{"x":1.55,"y":0.48},{"x":1.62,"y":0.42},{"x":1.35,"y":0.5},{"x":1.28,"y":0.86},{"x":1.38,"y":0.87},{"x":1.62,"y":0.85},{"x":1.7,"y":0.84},{"x":1.85,"y":0.72},{"x":1.92,"y":0.68},{"x":1.9,"y":0.6},{"x":2.0,"y":0.66},{"x":2.12,"y":0.56},{"x":2.18,"y":0.5},{"x":2.22,"y":0.45},{"x":2.32,"y":0.62},{"x":0.25,"y":0.9},{"x":0.32,"y":0.92},{"x":0.4,"y":0.88},{"x":0.5,"y":0.95},{"x":0.92,"y":0.98},{"x":1.02,"y":1.0},{"x":1.25,"y":1.14},{"x":1.55,"y":1.22},{"x":1.72,"y":1.2},{"x":2.1,"y":1.2},{"x":0.5,"y":1.12},{"x":0.42,"y":1.05}
],
"black":[{"x":8.98,"y":5.47},{"x":10.23,"y":4.75},{"x":9.02,"y":4.7},{"x":7.99,"y":4.53},{"x":7.56,"y":4.12},{"x":8.89,"y":4.18},{"x":9.81,"y":4.01},{"x":9.72,"y":3.77},{"x":7.61,"y":3.83},{"x":6.17,"y":3.72},{"x":8.37,"y":3.56},{"x":7.16,"y":3.27},{"x":3.99,"y":3.21},{"x":3.53,"y":3.09},{"x":3.85,"y":3.06},{"x":4.29,"y":3.14},{"x":2.92,"y":2.78},{"x":5.39,"y":2.45},{"x":9.16,"y":2.44},{"x":2.85,"y":2.4},{"x":2.25,"y":2.28},{"x":2.84,"y":2.15},{"x":2.85,"y":1.96},{"x":2.32,"y":1.74},{"x":4.63,"y":1.54},{"x":3.91,"y":1.44},{"x":2.89,"y":1.4},{"x":2.45,"y":1.38},{"x":2.29,"y":1.26},{"x":2.51,"y":1.24},{"x":2.57,"y":1.28},{"x":2.78,"y":1.25},{"x":2.84,"y":1.27}],
"dub":[{"n":"DUB","x":0.76,"y":5.66},{"n":"USP15","x":8.03,"y":5.11},{"n":"USP7","x":10.46,"y":5.11},{"n":"USP9x","x":9.94,"y":4.67},{"n":"USP47","x":6.75,"y":4.47},{"n":"USP10","x":7.92,"y":3.73},{"n":"ATXN3","x":4.6,"y":3.84},{"n":"VCPIP1","x":5.25,"y":3.41},{"n":"USP24","x":5.27,"y":3.28},{"n":"USP19","x":6.67,"y":3.28},{"n":"USP16","x":5.36,"y":3.08},{"n":"OTUD6B","x":5.27,"y":2.78},{"n":"USP8","x":5.09,"y":2.61},{"n":"USP33","x":5.15,"y":2.63},{"n":"USP28","x":3.85,"y":2.35},{"n":"USP3","x":5.18,"y":2.22},{"n":"BAP1","x":4.29,"y":2.0},{"n":"OTUD5","x":4.26,"y":2.01},{"n":"OTUD4","x":3.39,"y":1.89},{"n":"USP32","x":4.72,"y":1.73},{"n":"USP36","x":6.42,"y":2.12},{"n":"USP4","x":2.19,"y":1.64},{"n":"OTUD7B","x":3.02,"y":1.24},{"n":"USP48","x":8.0,"y":2.96},{"n":"USP5","x":8.67,"y":2.87},{"n":"USP14","x":10.26,"y":3.44},{"n":"OTUB1","x":9.04,"y":3.38},{"n":"UCHL5","x":9.34,"y":3.33}],
"e3":[{"n":"E3","x":0.73,"y":5.3},{"n":"HUWE1","x":8.44,"y":3.96},{"n":"UBR5","x":7.59,"y":1.86},{"n":"ITCH","x":5.23,"y":1.36}],
"labelsRed":[{"t":"DUB","x":0.89,"y":5.63},{"t":"USP15","x":8.2,"y":5.18},{"t":"USP7","x":10.64,"y":5.16},{"t":"USP9x","x":10.13,"y":4.69},{"t":"USP47","x":6.73,"y":4.67},{"t":"VCPIP1","x":4.53,"y":4.06},{"t":"USP10","x":6.33,"y":3.96},{"t":"ATXN3","x":2.96,"y":3.82},{"t":"USP14","x":10.26,"y":3.82},{"t":"OTUB1","x":8.55,"y":3.58},{"t":"USP24","x":3.52,"y":3.5},{"t":"USP19","x":6.04,"y":3.47},{"t":"UCHL5","x":9.47,"y":3.29},{"t":"USP16","x":5.47,"y":3.15},{"t":"USP48","x":8.03,"y":3.07},{"t":"OTUD6B","x":5.36,"y":2.91},{"t":"USP8","x":3.81,"y":2.82},{"t":"USP33","x":5.83,"y":2.66},{"t":"USP5","x":9.09,"y":2.69},{"t":"USP28","x":3.25,"y":2.54},{"t":"USP3","x":5.65,"y":2.41},{"t":"USP4","x":1.16,"y":2.42},{"t":"BAP1","x":3.02,"y":2.2},{"t":"OTUD5","x":4.55,"y":2.08},{"t":"OTUD4","x":3.5,"y":1.9},{"t":"USP32","x":4.87,"y":1.67},{"t":"USP36","x":6.64,"y":1.67},{"t":"OTUD7B","x":2.47,"y":1.6}],
"labelsGreen":[{"t":"E3","x":0.91,"y":5.28},{"t":"HUWE1","x":8.19,"y":4.33},{"t":"UBR5","x":7.59,"y":2.04},{"t":"ITCH","x":5.36,"y":1.42}],
"leaders":[{"x":1.82,"y":2.31,"x2":2.19,"y2":1.66},{"x":3.37,"y":1.46,"x2":3.02,"y2":1.24},{"x":3.77,"y":2.09,"x2":4.28,"y2":1.99},{"x":4.53,"y":2.06,"x2":4.29,"y2":2.0},{"x":6.96,"y":1.83,"x2":6.42,"y2":2.12},{"x":5.61,"y":2.38,"x2":5.18,"y2":2.22},{"x":5.78,"y":2.67,"x2":5.15,"y2":2.63},{"x":4.76,"y":2.72,"x2":5.09,"y2":2.61},{"x":4.94,"y":3.38,"x2":5.24,"y2":3.27},{"x":9.08,"y":2.73,"x2":8.67,"y2":2.87},{"x":5.5,"y":3.91,"x2":5.25,"y2":3.41},{"x":7.65,"y":3.83,"x2":7.92,"y2":3.73},{"x":8.8,"y":4.26,"x2":8.44,"y2":3.96},{"x":10.66,"y":3.7,"x2":10.26,"y2":3.44},{"x":9.25,"y":3.54,"x2":9.04,"y2":3.38}]
},
"hconcat":[
{"width":335,"height":1111,"resolve":{"scale":{"x":"independent"}},
"encoding":{"x":{"field":"c","type":"quantitative","axis":null,"scale":{"domain":[-1.037,8.945],"nice":false,"zero":false}},"y":{"field":"r","type":"quantitative","axis":null,"scale":{"domain":[-32.98,68.95],"nice":false,"zero":false,"reverse":true}}},
"layer":[
{"data":{"name":"heatA"},"mark":{"type":"rect","width":33.8,"height":11.1},"encoding":{"color":{"field":"v","type":"quantitative","legend":null,"scale":{"domain":[19,25,39],"range":["#1b2a8f","#ffffff","#e8301a"],"interpolate":"rgb"}}}},
{"data":{"values":[{"c":-0.65,"c2":8.645,"r":-0.96,"r2":59.96}]},"mark":{"type":"rect","fillOpacity":0,"stroke":"#050505","strokeWidth":10},"encoding":{"x2":{"field":"c2"},"y2":{"field":"r2"}}},
{"data":{"values":[{"c":-0.62,"c2":2.27,"r":-2.45},{"c":2.66,"c2":5.34,"r":-2.45},{"c":5.73,"c2":8.47,"r":-2.45}]},"mark":{"type":"rule","stroke":"#231815","strokeWidth":5},"encoding":{"x2":{"field":"c2"}}},
{"data":{"values":[{"c":8.8,"c2":9.04,"r":-1.05,"r2":-1.05},{"c":8.8,"c2":9.04,"r":2.16,"r2":2.16},{"c":9.04,"c2":9.04,"r":-1.05,"r2":2.16}]},"mark":{"type":"rule","stroke":"#3a3a3a","strokeWidth":3},"encoding":{"x2":{"field":"c2"},"y2":{"field":"r2"}}},
{"data":{"values":[{"t":"control","c":0.69,"r":-2.43},{"t":"HA-Ub-PA","c":3.61,"r":-2.61},{"t":"HA-Cys(cR₁₀)-Ub-PA (2)","c":6.8,"r":-2.61}]},"mark":{"type":"text","angle":-48,"align":"left","baseline":"alphabetic","fontSize":25,"fill":"#111"},"encoding":{"text":{"field":"t"}}},
{"data":{"values":[{"t":"**","c":9.18,"r":1.15}]},"mark":{"type":"text","align":"left","baseline":"middle","fontSize":22,"fill":"#333"},"encoding":{"text":{"field":"t"}}},
{"data":{"values":[{"t":"a.","c":-0.86,"r":-21.8}]},"mark":{"type":"text","align":"left","baseline":"alphabetic","fontSize":33,"fontWeight":"bold","fill":"#111"},"encoding":{"text":{"field":"t"}}},
{"data":{"values":[{"v":19.25,"r":64.87},{"v":19.75,"r":64.87},{"v":20.25,"r":64.87},{"v":20.75,"r":64.87},{"v":21.25,"r":64.87},{"v":21.75,"r":64.87},{"v":22.25,"r":64.87},{"v":22.75,"r":64.87},{"v":23.25,"r":64.87},{"v":23.75,"r":64.87},{"v":24.25,"r":64.87},{"v":24.75,"r":64.87},{"v":25.25,"r":64.87},{"v":25.75,"r":64.87},{"v":26.25,"r":64.87},{"v":26.75,"r":64.87},{"v":27.25,"r":64.87},{"v":27.75,"r":64.87},{"v":28.25,"r":64.87},{"v":28.75,"r":64.87},{"v":29.25,"r":64.87},{"v":29.75,"r":64.87},{"v":30.25,"r":64.87},{"v":30.75,"r":64.87},{"v":31.25,"r":64.87},{"v":31.75,"r":64.87},{"v":32.25,"r":64.87},{"v":32.75,"r":64.87},{"v":33.25,"r":64.87},{"v":33.75,"r":64.87},{"v":34.25,"r":64.87},{"v":34.75,"r":64.87},{"v":35.25,"r":64.87},{"v":35.75,"r":64.87},{"v":36.25,"r":64.87},{"v":36.75,"r":64.87},{"v":37.25,"r":64.87},{"v":37.75,"r":64.87},{"v":38.25,"r":64.87},{"v":38.75,"r":64.87}]},"mark":{"type":"rect","width":5.4,"height":25},"encoding":{"x":{"field":"v","type":"quantitative","scale":{"domain":[6.32,40.26],"nice":false,"zero":false},"axis":{"orient":"top","offset":-1053,"values":[20,25,30,35],"domain":false,"grid":false,"title":null,"tickColor":"#000","tickWidth":3,"tickSize":-6,"labelFontSize":18,"labelColor":"#111","labelPadding":14}},"color":{"field":"v","type":"quantitative","legend":null}}},
{"data":{"values":[{"v":19,"v2":39,"r":63.7,"r2":66.04}]},"mark":{"type":"rect","fillOpacity":0,"stroke":"#000","strokeWidth":4},"encoding":{"x":{"field":"v","type":"quantitative","scale":{"domain":[6.32,40.26],"nice":false,"zero":false},"axis":{"orient":"bottom","offset":-31,"values":[20,25,30,35],"domain":false,"grid":false,"labels":false,"title":"log₂ (LFQ intensity)","titleFontSize":17,"titleFontWeight":"normal","titleColor":"#333","titleX":229,"titleY":4,"tickColor":"#000","tickWidth":3,"tickSize":-6}},"x2":{"field":"v2"},"y2":{"field":"r2"}}}
]},
{"width":455,"height":1111,
"encoding":{"x":{"field":"c","type":"quantitative","axis":null,"scale":{"domain":[-14.61,14.18],"nice":false,"zero":false}},"y":{"field":"r","type":"quantitative","axis":null,"scale":{"domain":[-14.13,47.93],"nice":false,"zero":false,"reverse":true}}},
"layer":[
{"data":{"name":"heatB"},"mark":{"type":"rect","width":16,"height":18.1},"encoding":{"color":{"field":"v","type":"quantitative","legend":null}}},
{"data":{"values":[{"c":-0.59,"c2":8.58,"r":-0.61,"r2":33.63}]},"mark":{"type":"rect","fillOpacity":0,"stroke":"#050505","strokeWidth":5},"encoding":{"x2":{"field":"c2"},"y2":{"field":"r2"}}},
{"data":{"values":[{"c":-0.37,"c2":2.22,"r":-1.34},{"c":2.85,"c2":5.39,"r":-1.34},{"c":5.89,"c2":8.49,"r":-1.34},{"c":8.87,"c2":10.39,"r":-0.67},{"c":8.87,"c2":10.39,"r":33.63}]},"mark":{"type":"rule","stroke":"#231815","strokeWidth":4.5},"encoding":{"x2":{"field":"c2"}}},
{"data":{"values":[{"c":10.39,"c2":10.39,"r":-0.67,"r2":33.63},{"c":-14.42,"c2":-5.25,"r":5.31,"r2":-0.22},{"c":-14.42,"c2":-5.75,"r":7.32,"r2":32.57}]},"mark":{"type":"rule","stroke":"#111","strokeWidth":2.2},"encoding":{"x2":{"field":"c2"},"y2":{"field":"r2"}}},
{"data":{"name":"genes"},"mark":{"type":"text","align":"right","baseline":"middle","fontSize":20.5,"fill":"#111"},"encoding":{"text":{"field":"g"}}},
{"data":{"values":[{"t":"control","c":0.7,"r":-2.07},{"t":"HA-Ub-PA","c":3.49,"r":-2.01},{"t":"HA-Cys(cR₁₀)-Ub-PA (2)","c":7.09,"r":-2.07}]},"mark":{"type":"text","angle":-48,"align":"left","baseline":"alphabetic","fontSize":25,"fill":"#111"},"encoding":{"text":{"field":"t"}}},
{"data":{"values":[{"t":"**","c":11.0,"r":16.87}]},"mark":{"type":"text","align":"left","baseline":"middle","fontSize":22,"fill":"#333"},"encoding":{"text":{"field":"t"}}}
]},
{"width":1160,"height":1111,
"encoding":{"x":{"field":"x","type":"quantitative","scale":{"domain":[-8.54,12.416],"nice":false,"zero":false},"axis":{"orient":"bottom","offset":-134,"values":[-8,-6,-4,-2,0,2,4,6,8,10,12],"domain":false,"grid":false,"tickColor":"#000","tickWidth":5,"tickSize":13,"labelFontSize":24,"labelColor":"#222","labelPadding":4,"labelOverlap":false,"labelFlush":false,"labelExpr":"replace(datum.label,'−','-')","title":"Fold difference (Log₂)","titleFontSize":31,"titleFontWeight":"normal","titleColor":"#555","titleX":518,"titleY":75}},"y":{"field":"y","type":"quantitative","scale":{"domain":[-1.255,9.152],"nice":false,"zero":false},"axis":{"orient":"left","offset":-472.7,"values":[2,4,6,8],"domain":false,"grid":false,"tickColor":"#000","tickWidth":4,"tickSize":12,"labelFontSize":24,"labelColor":"#222","labelPadding":4,"title":"-Log₁₀(p-value)","titleFontSize":33,"titleFontWeight":"normal","titleColor":"#111","titleX":-34,"titleY":566}}},
"layer":[
{"data":{"values":[{"x":-8,"x2":12,"y":0}]},"mark":{"type":"rule","stroke":"#000","strokeWidth":7},"encoding":{"x2":{"field":"x2"}}},
{"data":{"values":[{"x":0,"y":0,"y2":8}]},"mark":{"type":"rule","stroke":"#000","strokeWidth":7},"encoding":{"y2":{"field":"y2"}}},
{"data":{"name":"gray"},"mark":{"type":"circle","size":72,"fill":"#5f5f5f","opacity":1}},
{"data":{"values":[{"x":-8,"x2":12,"y":1.22}]},"mark":{"type":"rule","stroke":"#000","strokeWidth":4.5,"strokeCap":"round","strokeDash":[0.1,10.2]},"encoding":{"x2":{"field":"x2"}}},
{"data":{"name":"black"},"mark":{"type":"circle","size":60,"fill":"#000","opacity":1}},
{"data":{"name":"leaders"},"mark":{"type":"rule","stroke":"#333","strokeWidth":2},"encoding":{"x2":{"field":"x2"},"y2":{"field":"y2"}}},
{"data":{"name":"dub"},"mark":{"type":"circle","size":40,"fill":"#e8201a","opacity":1}},
{"data":{"name":"e3"},"mark":{"type":"circle","size":40,"fill":"#0f9a4e","opacity":1}},
{"data":{"name":"labelsRed"},"mark":{"type":"text","align":"left","baseline":"middle","fontSize":27,"fill":"#e8201a"},"encoding":{"text":{"field":"t"}}},
{"data":{"name":"labelsGreen"},"mark":{"type":"text","align":"left","baseline":"middle","fontSize":27,"fill":"#0f9a4e"},"encoding":{"text":{"field":"t"}}},
{"data":{"values":[{"t":"HA-Ub-PA","x":-8.0,"y":0.41},{"t":"HA-Cys(cR₁₀)-Ub-PA (","x":5.21,"y":0.41},{"t":")","x":11.5,"y":0.41}]},"mark":{"type":"text","align":"left","baseline":"middle","fontSize":33.5,"fill":"#111"},"encoding":{"text":{"field":"t"}}},
{"data":{"values":[{"t":"2","x":11.15,"y":0.41}]},"mark":{"type":"text","align":"left","baseline":"middle","fontSize":33.5,"fontWeight":"bold","fill":"#111"},"encoding":{"text":{"field":"t"}}},
{"data":{"values":[{"t":"b.","x":-5.85,"y":8.1}]},"mark":{"type":"text","align":"left","baseline":"middle","fontSize":33,"fontWeight":"bold","fill":"#111"},"encoding":{"text":{"field":"t"}}}
]}
]}
